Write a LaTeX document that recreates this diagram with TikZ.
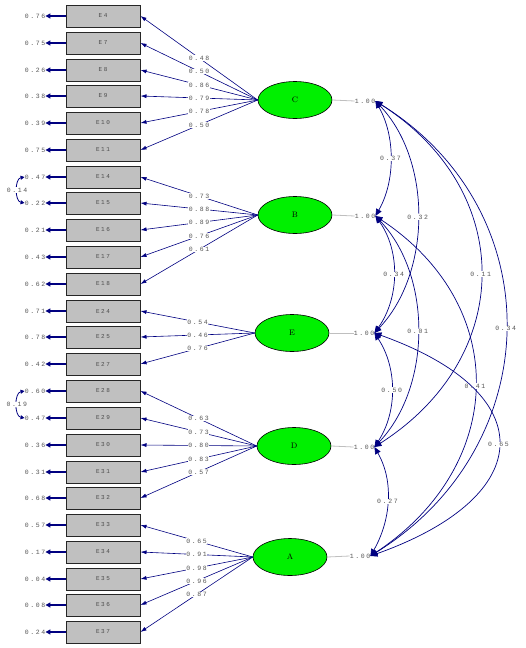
\documentclass[tikz,border=0pt]{standalone}
\usepackage{fontspec}
\newfontfamily\lisfont[LetterSpace=25]{Liberation Mono}
\usepackage{tikz}
\usetikzlibrary{shapes.geometric,arrows.meta}

\definecolor{lisnavy}{RGB}{0,0,128}
\definecolor{lisbox}{RGB}{192,192,192}
\definecolor{listext}{RGB}{85,85,85}
\definecolor{lisgreen}{RGB}{0,240,0}

\begin{document}
\begin{tikzpicture}[x=1pt, y=-1pt,
    obs/.style={draw=black!85, line width=1pt, fill=lisbox, minimum width=74pt, minimum height=22pt, inner sep=0pt, text=black!70, font=\lisfont\fontsize{6}{6}\selectfont},
    latent/.style={ellipse, draw=black, line width=0.6pt, fill=lisgreen, minimum width=74pt, minimum height=37pt, inner sep=0pt, font=\fontsize{8}{8}\selectfont},
    val/.style={fill=white, inner sep=0.6pt, text=listext, font=\lisfont\fontsize{6.5}{6.5}\selectfont},
    errval/.style={inner sep=0pt, text=listext, font=\lisfont\fontsize{6.5}{6.5}\selectfont},
    load/.style={lisnavy, line width=0.6pt, -{Latex[length=6pt, width=4pt]}},
    errarr/.style={lisnavy, line width=1.2pt, -{Triangle[length=5pt, width=5pt]}},
    covar/.style={lisnavy, line width=0.7pt, {Triangle[length=7pt, width=6pt]}-{Triangle[length=7pt, width=6pt]}},
    ecovar/.style={lisnavy, line width=0.8pt, {Triangle[length=4pt, width=4pt]}-{Triangle[length=4pt, width=4pt]}}]
  \useasboundingbox (0,0) rectangle (526,648);

  % Indicators
  \node[obs] (x4)  at (103,16)  {E4};
  \node[obs] (x7)  at (103,43)  {E7};
  \node[obs] (x8)  at (103,70)  {E8};
  \node[obs] (x9)  at (103,96)  {E9};
  \node[obs] (x10) at (103,123) {E10};
  \node[obs] (x11) at (103,150) {E11};
  \node[obs] (x14) at (103,177) {E14};
  \node[obs] (x15) at (103,203) {E15};
  \node[obs] (x16) at (103,230) {E16};
  \node[obs] (x17) at (103,257) {E17};
  \node[obs] (x18) at (103,284) {E18};
  \node[obs] (x24) at (103,311) {E24};
  \node[obs] (x25) at (103,337) {E25};
  \node[obs] (x27) at (103,364) {E27};
  \node[obs] (x28) at (103,391) {E28};
  \node[obs] (x29) at (103,418) {E29};
  \node[obs] (x30) at (103,445) {E30};
  \node[obs] (x31) at (103,472) {E31};
  \node[obs] (x32) at (103,498) {E32};
  \node[obs] (x33) at (103,525) {E33};
  \node[obs] (x34) at (103,552) {E34};
  \node[obs] (x35) at (103,579) {E35};
  \node[obs] (x36) at (103,605) {E36};
  \node[obs] (x37) at (103,632) {E37};

  % Error variances
  \node[errval] (e4)  at (35,16)  {0.76};
  \node[errval] (e7)  at (35,43)  {0.75};
  \node[errval] (e8)  at (35,70)  {0.26};
  \node[errval] (e9)  at (35,96)  {0.38};
  \node[errval] (e10) at (35,123) {0.39};
  \node[errval] (e11) at (35,150) {0.75};
  \node[errval] (e14) at (35,177) {0.47};
  \node[errval] (e15) at (35,203) {0.22};
  \node[errval] (e16) at (35,230) {0.21};
  \node[errval] (e17) at (35,257) {0.43};
  \node[errval] (e18) at (35,284) {0.62};
  \node[errval] (e24) at (35,311) {0.71};
  \node[errval] (e25) at (35,337) {0.78};
  \node[errval] (e27) at (35,364) {0.42};
  \node[errval] (e28) at (35,391) {0.60};
  \node[errval] (e29) at (35,418) {0.47};
  \node[errval] (e30) at (35,445) {0.36};
  \node[errval] (e31) at (35,472) {0.31};
  \node[errval] (e32) at (35,498) {0.68};
  \node[errval] (e33) at (35,525) {0.57};
  \node[errval] (e34) at (35,552) {0.17};
  \node[errval] (e35) at (35,579) {0.04};
  \node[errval] (e36) at (35,605) {0.08};
  \node[errval] (e37) at (35,632) {0.24};
  \draw[errarr] (x4.west) -- (e4.east);
  \draw[errarr] (x7.west) -- (e7.east);
  \draw[errarr] (x8.west) -- (e8.east);
  \draw[errarr] (x9.west) -- (e9.east);
  \draw[errarr] (x10.west) -- (e10.east);
  \draw[errarr] (x11.west) -- (e11.east);
  \draw[errarr] (x14.west) -- (e14.east);
  \draw[errarr] (x15.west) -- (e15.east);
  \draw[errarr] (x16.west) -- (e16.east);
  \draw[errarr] (x17.west) -- (e17.east);
  \draw[errarr] (x18.west) -- (e18.east);
  \draw[errarr] (x24.west) -- (e24.east);
  \draw[errarr] (x25.west) -- (e25.east);
  \draw[errarr] (x27.west) -- (e27.east);
  \draw[errarr] (x28.west) -- (e28.east);
  \draw[errarr] (x29.west) -- (e29.east);
  \draw[errarr] (x30.west) -- (e30.east);
  \draw[errarr] (x31.west) -- (e31.east);
  \draw[errarr] (x32.west) -- (e32.east);
  \draw[errarr] (x33.west) -- (e33.east);
  \draw[errarr] (x34.west) -- (e34.east);
  \draw[errarr] (x35.west) -- (e35.east);
  \draw[errarr] (x36.west) -- (e36.east);
  \draw[errarr] (x37.west) -- (e37.east);
  \draw[ecovar] (e14.west) to[bend right=80] node[val] {0.14} (e15.west);
  \draw[ecovar] (e28.west) to[bend right=80] node[val] {0.19} (e29.west);

  % Latent factors
  \node[latent] (C) at (295,100) {C};
  \node[latent] (B) at (295,215) {B};
  \node[latent] (E) at (292,333) {E};
  \node[latent] (D) at (294,446) {D};
  \node[latent] (A) at (290,557) {A};
  \node[errval] (vC) at (365,101) {1.00};
  \node[errval] (vB) at (365,216) {1.00};
  \node[errval] (vE) at (364,333) {1.00};
  \node[errval] (vD) at (364,447) {1.00};
  \node[errval] (vA) at (360,556) {1.00};
  \foreach \f in {C,B,E,D,A}
    \draw[black!25, line width=0.8pt] (\f.east) -- (v\f.west);

  % Loadings
  \draw[load] (C.west) -- node[val] {0.48} (x4.east);
  \draw[load] (C.west) -- node[val] {0.50} (x7.east);
  \draw[load] (C.west) -- node[val] {0.86} (x8.east);
  \draw[load] (C.west) -- node[val] {0.79} (x9.east);
  \draw[load] (C.west) -- node[val] {0.78} (x10.east);
  \draw[load] (C.west) -- node[val] {0.50} (x11.east);
  \draw[load] (B.west) -- node[val] {0.73} (x14.east);
  \draw[load] (B.west) -- node[val] {0.88} (x15.east);
  \draw[load] (B.west) -- node[val] {0.89} (x16.east);
  \draw[load] (B.west) -- node[val] {0.76} (x17.east);
  \draw[load] (B.west) -- node[val] {0.61} (x18.east);
  \draw[load] (E.west) -- node[val] {0.54} (x24.east);
  \draw[load] (E.west) -- node[val] {0.46} (x25.east);
  \draw[load] (E.west) -- node[val] {0.76} (x27.east);
  \draw[load] (D.west) -- node[val] {0.63} (x28.east);
  \draw[load] (D.west) -- node[val] {0.73} (x29.east);
  \draw[load] (D.west) -- node[val] {0.80} (x30.east);
  \draw[load] (D.west) -- node[val] {0.83} (x31.east);
  \draw[load] (D.west) -- node[val] {0.57} (x32.east);
  \draw[load] (A.west) -- node[val] {0.65} (x33.east);
  \draw[load] (A.west) -- node[val] {0.91} (x34.east);
  \draw[load] (A.west) -- node[val] {0.98} (x35.east);
  \draw[load] (A.west) -- node[val] {0.96} (x36.east);
  \draw[load] (A.west) -- node[val] {0.87} (x37.east);

  % Factor correlations
  \draw[covar] (vC.east) .. controls +(20,35) and +(20,-35) .. node[val] {0.37} (vB.east);
  \draw[covar] (vC.east) .. controls +(57,60) and +(57,-60) .. node[val] {0.32} (vE.east);
  \draw[covar] (vB.east) .. controls +(25,35) and +(25,-35) .. node[val] {0.34} (vE.east);
  \draw[covar] (vC.east) .. controls +(141,90) and +(141,-90) .. node[val] {0.11} (vD.east);
  \draw[covar] (vC.east) .. controls +(177,110) and +(177,-110) .. node[val] {0.34} (vA.east);
  \draw[covar] (vB.east) .. controls +(57,60) and +(57,-60) .. node[val] {0.01} (vD.east);
  \draw[covar] (vE.east) .. controls +(23,35) and +(23,-35) .. node[val] {0.50} (vD.east);
  \draw[covar] (vB.east) .. controls +(136,90) and +(136,-90) .. node[val] {0.41} (vA.east);
  \draw[covar] (vE.east) .. controls +(168,60) and +(168,-60) .. node[val] {0.65} (vA.east);
  \draw[covar] (vD.east) .. controls +(20,35) and +(20,-35) .. node[val] {0.27} (vA.east);
\end{tikzpicture}
\end{document}
